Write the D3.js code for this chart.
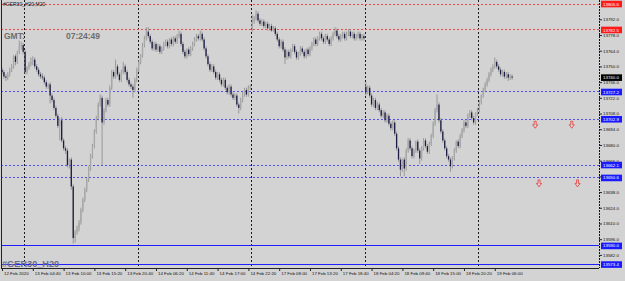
<!DOCTYPE html>
<html>
<head>
<meta charset="utf-8">
<script src="https://cdn.jsdelivr.net/npm/d3@7"></script>
<style>
  body { margin: 0; background: #d3d3d3; }
  svg { display: block; }
  text { font-family: "Liberation Sans", Arial, sans-serif; }
</style>
</head>
<body>
<svg id="chart" width="625" height="281"></svg>
<script>
"use strict";

const symbol = "#GER30_H20";
const period = "M20";
const clockText = "07:24:49";

// candles as [open, high, low, close], one array per trading day
const day12 = [
    [13747,13749,13743,13745],[13745,13747,13739,13741],[13741,13743,13737,13740],[13740,13745,13738,13743],
    [13743,13749,13741,13747],[13747,13752,13745,13750],[13750,13760,13748,13759],[13759,13761,13751,13754],
    [13754,13764,13752,13763],[13763,13773,13761,13768],[13768,13772,13765,13769],[13769,13771,13761,13763]
];
const day13 = [
    [13763,13765,13743,13745],[13745,13750,13743,13749],[13749,13754,13747,13752],[13752,13758,13750,13754],
    [13754,13759,13751,13756],[13756,13758,13748,13750],[13750,13752,13745,13747],[13747,13749,13741,13743],
    [13743,13745,13739,13741],[13741,13744,13738,13740],[13740,13742,13734,13736],[13736,13738,13730,13732],
    [13732,13735,13730,13734],[13734,13736,13717,13724],[13724,13726,13718,13720],[13720,13722,13711,13713],
    [13713,13715,13704,13706],[13706,13708,13695,13697],[13697,13704,13684,13702],[13702,13705,13682,13684],
    [13684,13686,13675,13677],[13677,13679,13672,13675],[13675,13677,13660,13662],[13662,13668,13659,13667],
    [13667,13669,13640,13643],[13643,13645,13592,13597],[13597,13604,13593,13602],[13602,13608,13600,13606],
    [13606,13613,13603,13611],[13611,13624,13609,13622],[13622,13633,13620,13631],[13631,13642,13629,13640],
    [13640,13651,13638,13649],[13649,13661,13647,13659],[13659,13672,13657,13670],[13670,13681,13668,13679],
    [13679,13694,13677,13692],[13692,13706,13690,13704],[13704,13718,13702,13716],[13716,13725,13714,13722],
    [13722,13724,13662,13700],[13700,13713,13698,13711],[13711,13722,13709,13720],[13720,13722,13714,13716],
    [13716,13733,13714,13731],[13731,13747,13729,13745],[13745,13747,13739,13741],[13741,13756,13739,13750],
    [13750,13752,13741,13743],[13743,13745,13736,13738],[13738,13747,13736,13745],[13745,13754,13743,13750],
    [13750,13752,13743,13745],[13745,13747,13736,13738],[13738,13740,13732,13734],[13734,13736,13730,13732],
    [13732,13734,13722,13729],[13729,13740,13727,13738],[13738,13749,13736,13747]
];
const day14 = [
    [13747,13756,13745,13754],[13754,13761,13752,13760],[13760,13771,13758,13769],[13769,13777,13767,13775],
    [13775,13785,13773,13781],[13781,13785,13775,13777],[13777,13779,13770,13772],[13772,13774,13764,13766],
    [13766,13772,13764,13770],[13770,13772,13763,13765],[13765,13770,13763,13768],[13768,13770,13761,13763],
    [13763,13768,13761,13766],[13766,13772,13764,13770],[13770,13774,13768,13772],[13772,13774,13766,13768],
    [13768,13775,13766,13774],[13774,13776,13768,13770],[13770,13777,13768,13775],[13775,13777,13770,13772],
    [13772,13779,13770,13777],[13777,13782,13775,13779],[13779,13781,13768,13770],[13770,13772,13761,13763],
    [13763,13765,13757,13759],[13759,13766,13757,13765],[13765,13767,13759,13761],[13761,13768,13759,13766],
    [13766,13772,13764,13770],[13770,13776,13768,13774],[13774,13779,13772,13777],[13777,13779,13773,13775],
    [13775,13782,13773,13779],[13779,13781,13772,13774],[13774,13776,13764,13766],[13766,13768,13757,13759],
    [13759,13761,13750,13752],[13752,13754,13745,13747],[13747,13752,13745,13750],[13750,13752,13743,13745],
    [13745,13747,13738,13740],[13740,13745,13738,13743],[13743,13745,13736,13738],[13738,13740,13732,13734],
    [13734,13740,13732,13738],[13738,13740,13729,13731],[13731,13733,13725,13727],[13727,13734,13725,13732],
    [13732,13734,13723,13725],[13725,13727,13720,13722],[13722,13726,13720,13724],[13724,13726,13714,13716],
    [13716,13718,13708,13713],[13713,13722,13711,13720],[13720,13727,13718,13725],[13725,13731,13723,13729],
    [13729,13731,13723,13725],[13725,13733,13723,13731],[13731,13734,13729,13732]
];
const day17 = [
    [13782,13796,13781,13790],[13790,13795,13788,13793],[13793,13800,13791,13797],[13797,13799,13789,13791],
    [13791,13793,13786,13788],[13788,13792,13786,13790],[13790,13792,13784,13786],[13786,13790,13784,13788],
    [13788,13790,13782,13784],[13784,13788,13782,13786],[13786,13788,13781,13782],[13782,13786,13781,13784],
    [13784,13786,13777,13779],[13779,13781,13772,13774],[13774,13776,13766,13768],[13768,13774,13766,13772],
    [13772,13774,13763,13765],[13765,13767,13752,13758],[13758,13765,13756,13763],[13763,13765,13757,13759],
    [13759,13766,13757,13765],[13765,13770,13763,13768],[13768,13770,13761,13763],[13763,13765,13756,13758],
    [13758,13763,13756,13761],[13761,13768,13759,13766],[13766,13768,13761,13763],[13763,13765,13757,13759],
    [13759,13766,13757,13765],[13765,13767,13759,13761],[13761,13768,13759,13766],[13766,13772,13764,13770],
    [13770,13776,13768,13774],[13774,13776,13768,13770],[13770,13777,13768,13775],[13775,13781,13773,13779],
    [13779,13781,13773,13775],[13775,13777,13770,13772],[13772,13779,13770,13777],[13777,13779,13772,13774],
    [13774,13776,13768,13770],[13770,13777,13768,13775],[13775,13781,13773,13779],[13779,13785,13777,13782],
    [13782,13784,13775,13777],[13777,13779,13772,13774],[13774,13779,13772,13777],[13777,13781,13775,13779],
    [13779,13781,13773,13775],[13775,13781,13773,13779],[13779,13783,13777,13781],[13781,13783,13775,13777],
    [13777,13781,13775,13779],[13779,13781,13773,13775],[13775,13779,13773,13777],[13777,13781,13775,13779],
    [13779,13781,13773,13775],[13775,13779,13773,13777],[13777,13779,13773,13775]
];
const day18 = [
    [13732,13736,13724,13727],[13727,13733,13725,13731],[13731,13733,13722,13724],[13724,13726,13714,13716],
    [13716,13722,13714,13720],[13720,13722,13711,13713],[13713,13718,13711,13716],[13716,13718,13709,13711],
    [13711,13713,13704,13706],[13706,13711,13704,13709],[13709,13711,13700,13702],[13702,13708,13700,13706],
    [13706,13708,13697,13699],[13699,13701,13693,13695],[13695,13702,13693,13700],[13700,13702,13688,13690],
    [13690,13692,13675,13677],[13677,13679,13665,13667],[13667,13669,13652,13658],[13658,13668,13656,13667],
    [13667,13669,13652,13659],[13659,13677,13657,13675],[13675,13686,13673,13684],[13684,13686,13675,13677],
    [13677,13679,13668,13670],[13670,13677,13668,13675],[13675,13684,13673,13683],[13683,13685,13673,13675],
    [13675,13677,13663,13668],[13668,13679,13666,13677],[13677,13686,13675,13684],[13684,13686,13677,13679],
    [13679,13681,13672,13674],[13674,13683,13672,13681],[13681,13690,13679,13688],[13688,13701,13686,13699],
    [13699,13713,13697,13711],[13711,13725,13709,13716],[13716,13718,13700,13702],[13702,13704,13690,13692],
    [13692,13694,13682,13684],[13684,13686,13675,13677],[13677,13679,13668,13670],[13670,13672,13665,13667],
    [13667,13669,13656,13661],[13661,13670,13659,13668],[13668,13677,13666,13675],[13675,13684,13673,13683],
    [13683,13685,13677,13679],[13679,13690,13677,13688],[13688,13695,13686,13693],[13693,13702,13691,13700],
    [13700,13702,13695,13697],[13697,13708,13695,13706],[13706,13711,13704,13709],[13709,13711,13702,13704],
    [13704,13706,13698,13700],[13700,13709,13698,13708],[13708,13713,13706,13711]
];
const day19 = [
    [13711,13720,13709,13718],[13718,13725,13716,13724],[13724,13731,13722,13729],[13729,13736,13727,13734],
    [13734,13740,13732,13738],[13738,13745,13736,13743],[13743,13749,13741,13747],[13747,13752,13745,13750],
    [13750,13758,13748,13754],[13754,13756,13748,13750],[13750,13752,13745,13747],[13747,13749,13741,13743],
    [13743,13747,13741,13745],[13745,13747,13739,13741],[13741,13745,13739,13743],[13743,13745,13737,13740],
    [13740,13743,13738,13741],[13741,13743,13738,13740]
];

const timeLabels = ["12 Feb 2020", "13 Feb 04:40", "13 Feb 10:00", "13 Feb 15:20", "13 Feb 20:40",
    "14 Feb 06:20", "14 Feb 11:40", "14 Feb 17:00", "14 Feb 22:20", "17 Feb 08:00", "17 Feb 13:20",
    "17 Feb 18:40", "18 Feb 04:20", "18 Feb 09:40", "18 Feb 15:00", "18 Feb 20:20", "19 Feb 06:00"];
const timeLabelBars = [0, 16, 32, 48, 64, 80, 96, 112, 128, 144, 160, 176, 192, 208, 224, 240, 256];
const daySeparators = [11.5, 70.5, 129.5, 188.5, 247.5];

const priceTicks = [13792, 13778, 13764, 13750, 13736, 13722, 13708, 13694, 13680, 13666,
    13652, 13638, 13624, 13610, 13596, 13582];
const redLevels = [13805.6, 13782.5];
const blueDotLevels = [13727.2, 13702.9, 13662.1, 13650.6];
const blueSolidLevels = [13590.0, 13573.4];
const lastPrice = 13740.0;
const arrowBars = [277, 296, 279, 299];
const arrowPrices = [13702.9, 13702.9, 13650.6, 13650.6];

const candles = [].concat(day12, day13, day14, day17, day18, day19);

const chartRight = 599;
const chartBottom = 268;

const xScale = d3.scaleLinear().domain([0, 265]).range([2, 512.1]);
const yScale = d3.scaleLinear().domain([13582, 13792]).range([254.9, 19.3]);
const fmt = d3.format(".1f");

const svg = d3.select("#chart");

svg.append("rect").attr("width", 625).attr("height", 281).attr("fill", "#d3d3d3");

// day separators
svg.append("g").selectAll("line")
    .data(daySeparators)
    .join("line")
    .attr("x1", d => Math.round(xScale(d)) + 0.5)
    .attr("x2", d => Math.round(xScale(d)) + 0.5)
    .attr("y1", 0).attr("y2", chartBottom)
    .attr("stroke", "#1a1a1a").attr("stroke-dasharray", "2,2");

// horizontal levels
function levelLines(levels, color, dash) {
    const lines = svg.append("g").selectAll("line")
        .data(levels)
        .join("line")
        .attr("x1", 1).attr("x2", chartRight)
        .attr("y1", d => Math.floor(yScale(d)) + 0.5)
        .attr("y2", d => Math.floor(yScale(d)) + 0.5)
        .attr("stroke", color)
        .attr("stroke-width", 1);
    if (dash) lines.attr("stroke-dasharray", dash);
}
levelLines(redLevels, "#f04848", "2,2");
levelLines(blueDotLevels, "#5050f8", "2,2");
levelLines(blueSolidLevels, "#2020ff", null);

// candles
const cg = svg.append("g");
cg.selectAll("line")
    .data(candles)
    .join("line")
    .attr("x1", (d, i) => xScale(i)).attr("x2", (d, i) => xScale(i))
    .attr("y1", d => yScale(d[1])).attr("y2", d => yScale(d[2]))
    .attr("stroke", "#8a8a8a").attr("stroke-width", 0.8);
cg.selectAll("rect")
    .data(candles)
    .join("rect")
    .attr("x", (d, i) => xScale(i) - 0.65)
    .attr("width", 1.3)
    .attr("y", d => yScale(Math.max(d[0], d[3])))
    .attr("height", d => Math.max(1, Math.abs(yScale(d[0]) - yScale(d[3]))))
    .attr("fill", d => d[3] >= d[0] ? "#a8a8a8" : "#1c1c44");

// arrows
svg.append("g").selectAll("path")
    .data(arrowBars)
    .join("path")
    .attr("transform", (d, i) => `translate(${xScale(d)},${yScale(arrowPrices[i]) + 2})`)
    .attr("d", "M-1,0 L1,0 L1,3.5 L2.6,3.5 L0,7 L-2.6,3.5 L-1,3.5 Z")
    .attr("fill", "none").attr("stroke", "#e83c3c").attr("stroke-width", 0.8);

// frame
svg.append("line").attr("x1", 1.5).attr("x2", 1.5).attr("y1", 0).attr("y2", chartBottom)
    .attr("stroke", "#222");
svg.append("line").attr("x1", 1).attr("x2", chartRight).attr("y1", chartBottom + 0.5).attr("y2", chartBottom + 0.5)
    .attr("stroke", "#222");
svg.append("line").attr("x1", chartRight + 0.5).attr("x2", chartRight + 0.5).attr("y1", 0).attr("y2", chartBottom)
    .attr("stroke", "#111").attr("stroke-dasharray", "2,1");

// price axis
const yAxis = svg.append("g")
    .attr("transform", `translate(${chartRight},0)`)
    .call(d3.axisRight(yScale).tickValues(priceTicks).tickFormat(fmt).tickSize(3).tickPadding(1));
yAxis.select(".domain").remove();
yAxis.selectAll("line").attr("stroke", "#222");
yAxis.selectAll("text").attr("font-size", 4.4).attr("fill", "#111")
    .attr("font-family", "Liberation Sans, Arial, sans-serif");

// time axis
const xAxis = svg.append("g")
    .attr("transform", `translate(0,${chartBottom})`)
    .call(d3.axisBottom(xScale).tickValues(timeLabelBars)
        .tickFormat((d, i) => timeLabels[i]).tickSize(3));
xAxis.select(".domain").remove();
xAxis.selectAll("line").attr("stroke", "#222");
xAxis.selectAll("text").attr("font-size", 4.4).attr("fill", "#111")
    .attr("font-family", "Liberation Sans, Arial, sans-serif")
    .attr("text-anchor", "start").attr("x", 1.5).attr("y", 4).attr("dy", "0.71em");

// price labels for levels
function priceTags(levels, bg) {
    const g = svg.append("g").selectAll("g")
        .data(levels)
        .join("g")
        .attr("transform", d => `translate(${chartRight + 2},${yScale(d)})`);
    g.append("rect").attr("x", 0).attr("y", -3.3).attr("width", 21).attr("height", 6.6).attr("fill", bg);
    g.append("text").attr("x", 2).attr("dy", "0.35em").attr("font-size", 4.4).attr("fill", "#fff")
        .text(d => fmt(d));
}
priceTags(redLevels, "#ff1a1a");
priceTags(blueDotLevels, "#1a1aff");
priceTags(blueSolidLevels, "#1a1aff");
priceTags([lastPrice], "#000");

// texts
svg.append("text").attr("x", 3).attr("y", 6).attr("font-size", 5).attr("fill", "#111")
    .text(symbol + "," + period);
svg.append("text").attr("x", 4).attr("y", 38.5).attr("font-size", 8.5).attr("font-weight", "bold")
    .attr("fill", "#6e6e6e").text("GMT:");
svg.append("text").attr("x", 66).attr("y", 38.5).attr("font-size", 8.5).attr("font-weight", "bold")
    .attr("fill", "#6e6e6e").text(clockText);
svg.append("text").attr("x", 2).attr("y", 267).attr("font-size", 9.2).attr("font-weight", "bold")
    .attr("fill", "#6c6c8c").text(symbol);
</script>
</body>
</html>
